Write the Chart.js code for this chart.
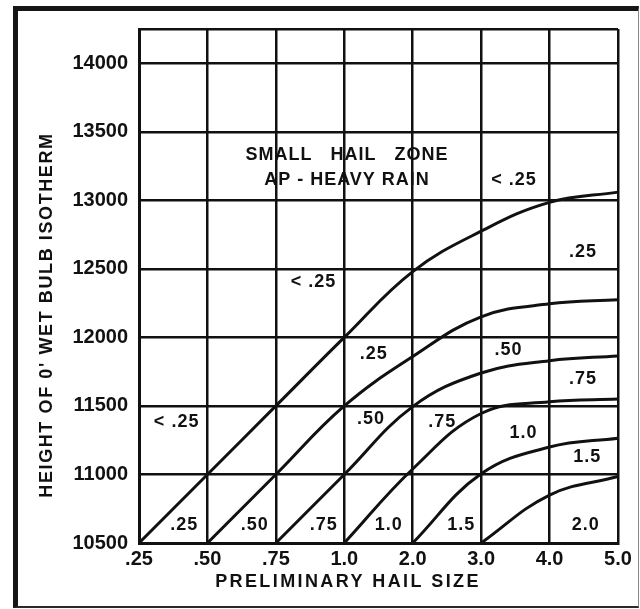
<!DOCTYPE html>
<html>
<head>
<meta charset="utf-8">
<title>Preliminary hail size</title>
<style>
  body { margin: 0; background: #fff; }
  .wrap { position: relative; width: 640px; height: 609px; }
  canvas { position: absolute; left: 0; top: 0; }
  /* heavy black frame round the whole figure */
  .frame {
    position: absolute; left: 13px; top: 6px; width: 626px; height: 602px;
    box-sizing: border-box; pointer-events: none;
    border-left: 5px solid #161616; border-top: 5px solid #161616;
    border-right: 1px solid #8a8a8a; border-bottom: 2px solid #2a2a2a;
  }
</style>
</head>
<body>
<div class="wrap">
  <canvas id="hail" width="640" height="609"></canvas>
  <div class="frame"></div>
</div>

<script src="https://cdn.jsdelivr.net/npm/chart.js"></script>
<script>
// hail size categories along the bottom (evenly spaced)
var sizeLabels = ['.25', '.50', '.75', '1.0', '2.0', '3.0', '4.0', '5.0'];
// height ticks (ft); the top of the grid sits at 14250
var heightTicks = [10500, 11000, 11500, 12000, 12500, 13000, 13500, 14000];
var heightTop = 14250;

// height (ft) of each boundary curve at every size column, null before the curve starts
var bound25 = [10500, 11000, 11500, 12000, 12480, 12775, 12985, 13060];
var bound50 = [null, 10500, 11000, 11500, 11860, 12150, 12245, 12275];
var bound75 = [null, null, 10500, 11000, 11495, 11740, 11830, 11865];
var bound10 = [null, null, null, 10500, 11040, 11445, 11530, 11550];
var bound15 = [null, null, null, null, 10500, 11005, 11200, 11265];
var bound20 = [null, null, null, null, null, 10500, 10850, 10985];

// zone labels: text, column index, height (ft)
var zoneText = ['SMALL   HAIL   ZONE', 'AP - HEAVY RAIN', '< .25', '.25',
                '< .25', '.25', '.50', '.75',
                '< .25', '.50', '.75', '1.0', '1.5',
                '.25', '.50', '.75', '1.0', '1.5', '2.0'];
var zoneX = [3.04, 3.04, 5.48, 6.49,
             2.55, 3.43, 5.40, 6.49,
             0.55, 3.39, 4.43, 5.62, 6.55,
             0.66, 1.69, 2.70, 3.65, 4.71, 6.53];
var zoneY = [13330, 13146, 13146, 12621,
             12402, 11881, 11910, 11699,
             11386, 11407, 11386, 11305, 11127,
             10631, 10631, 10631, 10631, 10631, 10631];

var INK = '#111';
var FONT = '"Liberation Sans", Arial, sans-serif';

function curve(vals) {
  return {
    data: vals,
    borderColor: INK,
    borderWidth: 3,
    pointRadius: 0,
    fill: false,
    tension: 0.4
  };
}

// zone labels and the two axis titles
var labelPlugin = {
  id: 'zoneLabels',
  afterDraw: function(chart) {
    var ctx = chart.ctx, xs = chart.scales.x, ys = chart.scales.y;
    ctx.save();
    ctx.fillStyle = INK;
    ctx.textAlign = 'center';
    ctx.textBaseline = 'middle';
    ctx.font = 'bold 18px ' + FONT;
    ctx.letterSpacing = '1px';
    for (var i = 0; i < zoneText.length; i++) {
      ctx.fillText(zoneText[i], xs.getPixelForValue(zoneX[i]), ys.getPixelForValue(zoneY[i]));
    }

    ctx.letterSpacing = '2.4px';
    ctx.fillText('PRELIMINARY HAIL SIZE', 348, 582);

    ctx.letterSpacing = '1.6px';
    ctx.translate(47, 315);
    ctx.rotate(-Math.PI / 2);
    ctx.fillText("HEIGHT OF 0' WET BULB ISOTHERM", 0, 0);
    ctx.restore();
  }
};

new Chart(document.getElementById('hail').getContext('2d'), {
  type: 'line',
  data: {
    labels: sizeLabels,
    datasets: [curve(bound25), curve(bound50), curve(bound75),
               curve(bound10), curve(bound15), curve(bound20)]
  },
  options: {
    responsive: false,
    animation: false,
    layout: { padding: { top: 29, right: 22, left: 0, bottom: 0 } },
    plugins: { legend: { display: false }, tooltip: { enabled: false } },
    scales: {
      x: {
        type: 'category',
        offset: false,
        grid: { color: INK, lineWidth: 2.5, drawTicks: false, offset: false },
        border: { color: INK, width: 3 },
        ticks: {
          color: INK, padding: 4, maxRotation: 0, autoSkip: false,
          font: { family: FONT, size: 20, weight: 'bold' }
        },
        afterFit: function(s) { s.height = 66; }
      },
      y: {
        min: heightTicks[0],
        max: heightTop,
        grid: { color: INK, lineWidth: 2.5, drawTicks: false },
        border: { color: INK, width: 3 },
        afterBuildTicks: function(s) {
          s.ticks = heightTicks.concat([heightTop]).map(function(v) { return { value: v }; });
        },
        ticks: {
          color: INK, padding: 11,
          font: { family: FONT, size: 20, weight: 'bold' },
          callback: function(v) { return v === heightTop ? '' : v; }
        },
        afterFit: function(s) { s.width = 139; }
      }
    }
  },
  plugins: [labelPlugin]
});
</script>
</body>
</html>
